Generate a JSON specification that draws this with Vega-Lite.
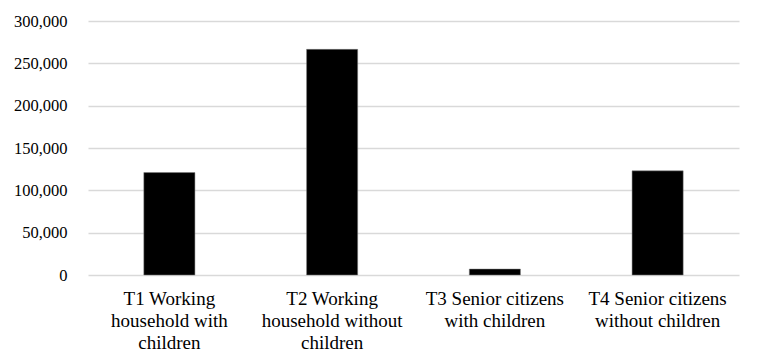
{
  "$schema": "https://vega.github.io/schema/vega-lite/v6.json",
  "autosize": "none",
  "width": 651,
  "height": 254,
  "padding": {"left": 88, "top": 21, "right": 21, "bottom": 89},
  "background": "white",
  "data": {
    "values": [
      {"category": "T1 Working household with children", "value": 121000},
      {"category": "T2 Working household without children", "value": 266500},
      {"category": "T3 Senior citizens with children", "value": 7000},
      {"category": "T4 Senior citizens without children", "value": 123000}
    ]
  },
  "mark": {"type": "bar", "color": "black", "stroke": "#7f7f7f", "strokeWidth": 0.5},
  "encoding": {
    "x": {
      "field": "category",
      "type": "nominal",
      "sort": null,
      "scale": {"paddingInner": 0.686, "paddingOuter": 0.343},
      "axis": {
        "title": null,
        "labelAngle": 0,
        "labelFont": "Liberation Serif",
        "labelFontSize": 19,
        "labelColor": "#000000",
        "labelLineHeight": 22,
        "labelPadding": 14,
        "labelBaseline": "top",
        "labelLimit": 300,
        "labelOverlap": false,
        "ticks": false,
        "domain": false,
        "grid": false,
        "labelExpr": "datum.value == 'T1 Working household with children' ? ['T1 Working', 'household with', 'children'] : datum.value == 'T2 Working household without children' ? ['T2 Working', 'household without', 'children'] : datum.value == 'T3 Senior citizens with children' ? ['T3 Senior citizens', 'with children'] : ['T4 Senior citizens', 'without children']"
      }
    },
    "y": {
      "field": "value",
      "type": "quantitative",
      "scale": {"domain": [0, 300000], "nice": false},
      "axis": {
        "title": null,
        "values": [0, 50000, 100000, 150000, 200000, 250000, 300000],
        "format": ",d",
        "labelFont": "Liberation Serif",
        "labelFontSize": 16.5,
        "labelColor": "#000000",
        "labelPadding": 21,
        "ticks": false,
        "domain": false,
        "grid": true,
        "gridColor": "#d9d9d9",
        "gridWidth": 1.3
      }
    }
  },
  "config": {"view": {"stroke": null}}
}
